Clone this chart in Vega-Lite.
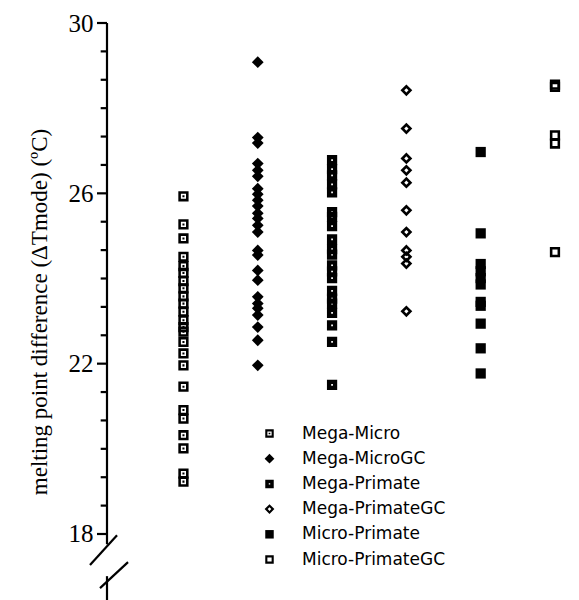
{
  "$schema": "https://vega.github.io/schema/vega-lite/v6.json",
  "width": 472,
  "height": 577,
  "autosize": "none",
  "padding": {"left": 107, "top": 23, "right": 0, "bottom": 0},
  "background": "white",
  "config": {"view": {"stroke": null}},
  "resolve": {"scale": {"x": "independent"}},
  "layer": [
    {
      "data": {"values": [
        {"series": "Mega-Micro", "dTm": 25.93}, {"series": "Mega-Micro", "dTm": 25.27}, {"series": "Mega-Micro", "dTm": 24.94}, {"series": "Mega-Micro", "dTm": 24.51},
        {"series": "Mega-Micro", "dTm": 24.29}, {"series": "Mega-Micro", "dTm": 24.13}, {"series": "Mega-Micro", "dTm": 23.94}, {"series": "Mega-Micro", "dTm": 23.77},
        {"series": "Mega-Micro", "dTm": 23.58}, {"series": "Mega-Micro", "dTm": 23.41}, {"series": "Mega-Micro", "dTm": 23.22}, {"series": "Mega-Micro", "dTm": 23.02},
        {"series": "Mega-Micro", "dTm": 22.86}, {"series": "Mega-Micro", "dTm": 22.75}, {"series": "Mega-Micro", "dTm": 22.51}, {"series": "Mega-Micro", "dTm": 22.24},
        {"series": "Mega-Micro", "dTm": 21.96}, {"series": "Mega-Micro", "dTm": 21.46}, {"series": "Mega-Micro", "dTm": 20.91}, {"series": "Mega-Micro", "dTm": 20.71},
        {"series": "Mega-Micro", "dTm": 20.32}, {"series": "Mega-Micro", "dTm": 20.01}, {"series": "Mega-Micro", "dTm": 19.42}, {"series": "Mega-Micro", "dTm": 19.23},
        {"series": "Mega-MicroGC", "dTm": 29.08}, {"series": "Mega-MicroGC", "dTm": 27.31}, {"series": "Mega-MicroGC", "dTm": 27.18}, {"series": "Mega-MicroGC", "dTm": 26.70},
        {"series": "Mega-MicroGC", "dTm": 26.54}, {"series": "Mega-MicroGC", "dTm": 26.40}, {"series": "Mega-MicroGC", "dTm": 26.11}, {"series": "Mega-MicroGC", "dTm": 25.98},
        {"series": "Mega-MicroGC", "dTm": 25.84}, {"series": "Mega-MicroGC", "dTm": 25.70}, {"series": "Mega-MicroGC", "dTm": 25.53}, {"series": "Mega-MicroGC", "dTm": 25.41},
        {"series": "Mega-MicroGC", "dTm": 25.25}, {"series": "Mega-MicroGC", "dTm": 25.09}, {"series": "Mega-MicroGC", "dTm": 24.66}, {"series": "Mega-MicroGC", "dTm": 24.55},
        {"series": "Mega-MicroGC", "dTm": 24.19}, {"series": "Mega-MicroGC", "dTm": 23.96}, {"series": "Mega-MicroGC", "dTm": 23.57}, {"series": "Mega-MicroGC", "dTm": 23.41},
        {"series": "Mega-MicroGC", "dTm": 23.30}, {"series": "Mega-MicroGC", "dTm": 23.14}, {"series": "Mega-MicroGC", "dTm": 22.86}, {"series": "Mega-MicroGC", "dTm": 22.55},
        {"series": "Mega-MicroGC", "dTm": 21.96},
        {"series": "Mega-Primate", "dTm": 26.78}, {"series": "Mega-Primate", "dTm": 26.57}, {"series": "Mega-Primate", "dTm": 26.42}, {"series": "Mega-Primate", "dTm": 26.21},
        {"series": "Mega-Primate", "dTm": 26.02}, {"series": "Mega-Primate", "dTm": 25.56}, {"series": "Mega-Primate", "dTm": 25.45}, {"series": "Mega-Primate", "dTm": 25.23},
        {"series": "Mega-Primate", "dTm": 24.92}, {"series": "Mega-Primate", "dTm": 24.69}, {"series": "Mega-Primate", "dTm": 24.56}, {"series": "Mega-Primate", "dTm": 24.31},
        {"series": "Mega-Primate", "dTm": 24.17}, {"series": "Mega-Primate", "dTm": 24.01}, {"series": "Mega-Primate", "dTm": 23.71}, {"series": "Mega-Primate", "dTm": 23.53},
        {"series": "Mega-Primate", "dTm": 23.41}, {"series": "Mega-Primate", "dTm": 23.19}, {"series": "Mega-Primate", "dTm": 22.90}, {"series": "Mega-Primate", "dTm": 22.51},
        {"series": "Mega-Primate", "dTm": 21.50},
        {"series": "Mega-PrimateGC", "dTm": 28.42}, {"series": "Mega-PrimateGC", "dTm": 27.52}, {"series": "Mega-PrimateGC", "dTm": 26.82}, {"series": "Mega-PrimateGC", "dTm": 26.54},
        {"series": "Mega-PrimateGC", "dTm": 26.25}, {"series": "Mega-PrimateGC", "dTm": 25.60}, {"series": "Mega-PrimateGC", "dTm": 25.09}, {"series": "Mega-PrimateGC", "dTm": 24.66},
        {"series": "Mega-PrimateGC", "dTm": 24.51}, {"series": "Mega-PrimateGC", "dTm": 24.35}, {"series": "Mega-PrimateGC", "dTm": 23.23},
        {"series": "Micro-Primate", "dTm": 26.97}, {"series": "Micro-Primate", "dTm": 25.06}, {"series": "Micro-Primate", "dTm": 24.34}, {"series": "Micro-Primate", "dTm": 24.17},
        {"series": "Micro-Primate", "dTm": 24.01}, {"series": "Micro-Primate", "dTm": 23.86}, {"series": "Micro-Primate", "dTm": 23.45}, {"series": "Micro-Primate", "dTm": 23.36},
        {"series": "Micro-Primate", "dTm": 22.94}, {"series": "Micro-Primate", "dTm": 22.36}, {"series": "Micro-Primate", "dTm": 21.77},
        {"series": "Micro-PrimateGC", "dTm": 28.55}, {"series": "Micro-PrimateGC", "dTm": 28.50}, {"series": "Micro-PrimateGC", "dTm": 27.36}, {"series": "Micro-PrimateGC", "dTm": 27.17},
        {"series": "Micro-PrimateGC", "dTm": 24.62}
      ]},
      "mark": {"type": "point", "filled": true, "color": "black", "opacity": 1, "strokeWidth": 0, "size": 105},
      "encoding": {
        "x": {
          "field": "series", "type": "nominal",
          "scale": {"type": "point", "domain": ["Mega-Micro", "Mega-MicroGC", "Mega-Primate", "Mega-PrimateGC", "Micro-Primate", "Micro-PrimateGC"], "padding": 0.676, "align": 0.761},
          "axis": null
        },
        "y": {
          "field": "dTm", "type": "quantitative",
          "scale": {"domain": [16.45, 30], "nice": false, "zero": false},
          "axis": {
            "orient": "left", "values": [18, 22, 26, 30],
            "domain": false, "grid": false, "ticks": false,
            "labelFont": "Liberation Serif", "labelFontSize": 25, "labelColor": "black", "labelPadding": 14,
            "title": "melting point difference (ΔTmode) (ºC)",
            "titleFont": "Liberation Serif", "titleFontSize": 23, "titleFontWeight": "normal", "titleColor": "black",
            "titleAngle": 270, "titleBaseline": "alphabetic", "titleX": -61
          }
        },
        "shape": {
          "field": "series", "type": "nominal",
          "scale": {
            "domain": ["Mega-Micro", "Mega-MicroGC", "Mega-Primate", "Mega-PrimateGC", "Micro-Primate", "Micro-PrimateGC"],
            "range": [
              "M-1,-1H1V1H-1Z M-0.5,-0.5V0.5H0.5V-0.5Z M-0.2,-0.2H0.2V0.2H-0.2Z",
              "M0,-1.15L1.15,0L0,1.15L-1.15,0Z",
              "M-1,-1H1V1H-1Z M-0.17,-0.17V0.17H0.17V-0.17Z",
              "M0,-1.15L1.15,0L0,1.15L-1.15,0Z M0,-0.42L-0.42,0L0,0.42L0.42,0Z",
              "M-1,-1H1V1H-1Z",
              "M-1,-1H1V1H-1Z M-0.5,-0.5V0.5H0.5V-0.5Z"
            ]
          },
          "legend": {
            "orient": "none", "legendX": 154, "legendY": 402, "title": null, "padding": 0,
            "labelFont": "DejaVu Sans", "labelFontSize": 17, "labelColor": "black", "labelOffset": 24,
            "symbolSize": 72, "symbolFillColor": "black", "symbolStrokeWidth": 0, "symbolOpacity": 1,
            "rowPadding": 7.2
          }
        }
      }
    },
    {
      "data": {"values": [
        {"part": "axis upper", "x": 0, "x2": 0, "y": 30, "y2": 17.76},
        {"part": "axis lower", "x": 0, "x2": 0, "y": 17.01, "y2": 16.45},
        {"part": "break 1", "x": -0.229, "x2": 0.135, "y": 17.27, "y2": 17.97},
        {"part": "break 2", "x": -0.094, "x2": 0.283, "y": 16.73, "y2": 17.34},
        {"part": "major tick", "x": -0.135, "x2": 0, "y": 18, "y2": 18},
        {"part": "major tick", "x": -0.135, "x2": 0, "y": 22, "y2": 22},
        {"part": "major tick", "x": -0.135, "x2": 0, "y": 26, "y2": 26},
        {"part": "major tick", "x": -0.135, "x2": 0, "y": 30, "y2": 30},
        {"part": "minor tick", "x": -0.085, "x2": 0, "y": 18.6667, "y2": 18.6667},
        {"part": "minor tick", "x": -0.085, "x2": 0, "y": 19.3333, "y2": 19.3333},
        {"part": "minor tick", "x": -0.085, "x2": 0, "y": 20, "y2": 20},
        {"part": "minor tick", "x": -0.085, "x2": 0, "y": 20.6667, "y2": 20.6667},
        {"part": "minor tick", "x": -0.085, "x2": 0, "y": 21.3333, "y2": 21.3333},
        {"part": "minor tick", "x": -0.085, "x2": 0, "y": 22.6667, "y2": 22.6667},
        {"part": "minor tick", "x": -0.085, "x2": 0, "y": 23.3333, "y2": 23.3333},
        {"part": "minor tick", "x": -0.085, "x2": 0, "y": 24, "y2": 24},
        {"part": "minor tick", "x": -0.085, "x2": 0, "y": 24.6667, "y2": 24.6667},
        {"part": "minor tick", "x": -0.085, "x2": 0, "y": 25.3333, "y2": 25.3333},
        {"part": "minor tick", "x": -0.085, "x2": 0, "y": 26.6667, "y2": 26.6667},
        {"part": "minor tick", "x": -0.085, "x2": 0, "y": 27.3333, "y2": 27.3333},
        {"part": "minor tick", "x": -0.085, "x2": 0, "y": 28, "y2": 28},
        {"part": "minor tick", "x": -0.085, "x2": 0, "y": 28.6667, "y2": 28.6667},
        {"part": "minor tick", "x": -0.085, "x2": 0, "y": 29.3333, "y2": 29.3333}
      ]},
      "mark": {"type": "rule", "color": "black", "strokeWidth": 2.2},
      "encoding": {
        "x": {"field": "x", "type": "quantitative", "scale": {"domain": [0, 6.353], "nice": false, "zero": false}, "axis": null},
        "x2": {"field": "x2"},
        "y": {"field": "y", "type": "quantitative", "scale": {"domain": [16.45, 30], "nice": false, "zero": false}},
        "y2": {"field": "y2"}
      }
    }
  ]
}
